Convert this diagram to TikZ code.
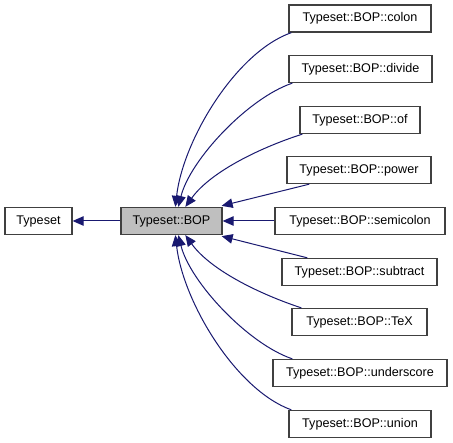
\documentclass[tikz,border=0pt]{standalone}
\usepackage{fontspec}
\setmainfont{Liberation Sans}
\usetikzlibrary{arrows.meta}
\definecolor{edgecol}{HTML}{191970}
\definecolor{boxborder}{HTML}{404040}
\definecolor{boxfill}{HTML}{BFBFBF}
\begin{document}
\begin{tikzpicture}[x=1pt,y=-1pt,
  cls/.style={draw=boxborder,line width=1.3pt,fill=white,minimum height=27pt,inner sep=0pt,
    font=\fontsize{12.6}{15}\selectfont},
  edge/.style={draw=edgecol,line width=1pt,-{Triangle[length=11pt,width=9.5pt]}}]
\useasboundingbox (0,0) rectangle (453,443);
\fill[white] (0,0) rectangle (453,443);
\node[cls,minimum width=67pt] (ts) at (38.5,221) {Typeset};
\node[cls,minimum width=101pt,fill=boxfill] (bop) at (171.5,221) {Typeset::BOP};
\node[cls,minimum width=142pt] (colon) at (360,18.5) {Typeset::BOP::colon};
\node[cls,minimum width=143pt] (divide) at (360.5,69) {Typeset::BOP::divide};
\node[cls,minimum width=120pt] (of) at (360,120) {Typeset::BOP::of};
\node[cls,minimum width=144pt] (power) at (359,170) {Typeset::BOP::power};
\node[cls,minimum width=170pt] (semicolon) at (360,221) {Typeset::BOP::semicolon};
\node[cls,minimum width=155pt] (subtract) at (359.5,272) {Typeset::BOP::subtract};
\node[cls,minimum width=135pt] (tex) at (359.5,322) {Typeset::BOP::TeX};
\node[cls,minimum width=174pt] (underscore) at (360,373) {Typeset::BOP::underscore};
\node[cls,minimum width=142pt] (union) at (360,424) {Typeset::BOP::union};

\draw[edge] (bop.west) -- (ts.east);
\draw[edge] ([xshift=3pt]colon.south west) .. controls (236,52) and (183,140) .. ([xshift=55pt]bop.north west);
\draw[edge] ([xshift=4pt]divide.south west) .. controls (248,98) and (190,160) .. ([xshift=58pt]bop.north west);
\draw[edge] ([xshift=3pt]of.south west) .. controls (265,146) and (212,170) .. ([xshift=65pt]bop.north west);
\draw[edge] ([xshift=23pt]power.south west) -- ([xshift=-1pt,yshift=1pt]bop.north east);
\draw[edge] (semicolon.west) -- (bop.east);
\draw[edge] ([xshift=26pt]subtract.north west) -- ([xshift=-1pt,yshift=-1pt]bop.south east);
\draw[edge] ([xshift=10pt]tex.north west) .. controls (265,296) and (212,272) .. ([xshift=65pt]bop.south west);
\draw[edge] ([xshift=20pt]underscore.north west) .. controls (248,344) and (190,282) .. ([xshift=58pt]bop.south west);
\draw[edge] ([xshift=3pt]union.north west) .. controls (236,390) and (183,302) .. ([xshift=55pt]bop.south west);
\end{tikzpicture}
\end{document}
